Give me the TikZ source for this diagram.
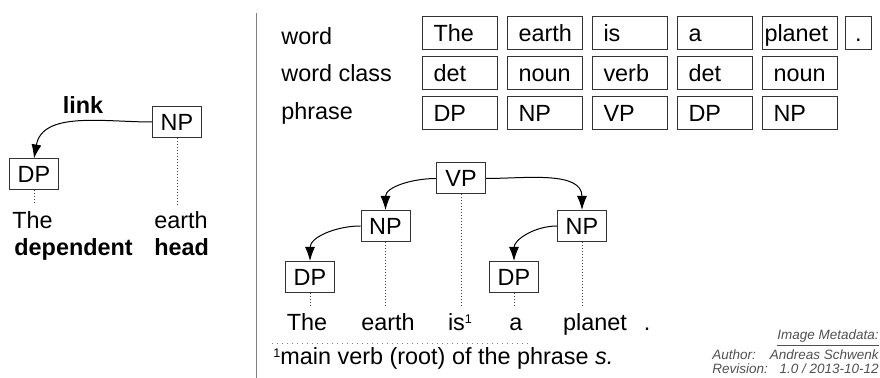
\documentclass[tikz,border=0pt]{standalone}
\usepackage{fontspec}
\setmainfont{Liberation Sans}
\usetikzlibrary{arrows.meta,positioning}
\definecolor{rulegray}{RGB}{128,128,128}
\definecolor{metagray}{RGB}{80,80,80}
\newcommand{\fnmark}{\raisebox{3.9pt}{\fontsize{6.3pt}{7pt}\selectfont 1}}

\begin{document}
\begin{tikzpicture}[x=0.5pt,y=-0.5pt,
font=\fontsize{11.7pt}{14pt}\selectfont,
cell/.style={draw=black!80,line width=0.5pt,minimum height=16.5pt,inner xsep=5.5pt,inner ysep=0pt,
text width=26.5pt,align=left,text height=8.4pt,text depth=0pt},
phr/.style={draw=black!80,line width=0.5pt,minimum width=24.5pt,minimum height=15.5pt,
inner sep=0pt,text height=8.4pt,text depth=0pt},
word/.style={anchor=base,inner xsep=0pt,inner ysep=3.5pt,text height=8.4pt,text depth=0pt},
proj/.style={densely dotted,line width=0.5pt,draw=black!75},
link/.style={-{Latex[length=7pt,width=5pt]},line width=0.5pt},
meta/.style={font=\fontsize{6.75pt}{8pt}\selectfont\itshape,text=metagray,inner sep=0pt}]
\useasboundingbox (0,0) rectangle (880,378);

% small example: one link from head to dependent
\node[phr] (np0) at (177,122) {NP};
\node[phr] (dp0) at (34,174.5) {DP};
\node[anchor=base,inner sep=0pt,font=\fontsize{11.7pt}{14pt}\selectfont\bfseries] (lnk) at (83,114) {link};
\node[word,anchor=base west] (the0) at (12,229) {The};
\node[word,anchor=base west] (earth0) at (154,229) {earth};
\node[word,anchor=base west,font=\fontsize{11.7pt}{14pt}\selectfont\bfseries] (dep0) at (14,256) {dependent};
\node[word,anchor=base west,font=\fontsize{11.7pt}{14pt}\selectfont\bfseries] (head0) at (154,256) {head};
\draw[link] (np0.west) to[out=180,in=80] (dp0.north);
\draw[proj] (dp0.south) -- (dp0.south |- the0.north);
\draw[proj] (np0.south) -- (np0.south |- earth0.north);

\draw[rulegray,line width=0.6pt] (256.7,13) -- (256.7,378);

% table of words, classes and phrases
\node[anchor=base west,inner sep=0pt] (lword) at (281,45) {word};
\node[anchor=base west,inner sep=0pt] (lclass) at (281,82) {word class};
\node[anchor=base west,inner sep=0pt] (lphrase) at (281,120) {phrase};

\node[cell] (w1) at (460,33) {The};
\node[cell,right=4.5pt of w1] (w2) {earth};
\node[cell,right=4.5pt of w2] (w3) {is};
\node[cell,right=4.5pt of w3] (w4) {a};
\node[cell,right=4.5pt of w4,inner xsep=1pt,text width=35.5pt] (w5) {planet};
\node[cell,right=3.3pt of w5,inner xsep=3pt,text width=7.35pt,align=center] (w6) {.};

\node[cell,below=3pt of w1] (c1) {det};
\node[cell,below=3pt of w2] (c2) {noun};
\node[cell,below=3pt of w3] (c3) {verb};
\node[cell,below=3pt of w4] (c4) {det};
\node[cell,below=3pt of w5] (c5) {noun};

\node[cell,below=3pt of c1] (p1) {DP};
\node[cell,below=3pt of c2] (p2) {NP};
\node[cell,below=3pt of c3] (p3) {VP};
\node[cell,below=3pt of c4] (p4) {DP};
\node[cell,below=3pt of c5] (p5) {NP};

% dependency tree of the sentence
\node[phr] (vp) at (461,178.5) {VP};
\node[phr] (np1) at (385.5,226) {NP};
\node[phr] (np2) at (582,226) {NP};
\node[phr] (dp1) at (310,277) {DP};
\node[phr] (dp2) at (514,277) {DP};

\node[word] (t1) at (307,331) {The};
\node[word] (t2) at (388,331) {earth};
\node[word] (t3) at (460,331) {is\fnmark};
\node[word] (t4) at (516,331) {a};
\node[word] (t5) at (595,331) {planet};
\node[word] (t6) at (647,331) {.};

\draw[link] (vp.west) to[out=180,in=90] (np1.north);
\draw[link] (vp.east) to[out=0,in=90] (np2.north);
\draw[link] (np1.west) to[out=180,in=90] (dp1.north);
\draw[link] (np2.west) to[out=180,in=90] (dp2.north);

\draw[proj] (dp1.south) -- (dp1.south |- t1.north);
\draw[proj] (np1.south) -- (np1.south |- t2.north);
\draw[proj] (vp.south) -- (vp.south |- t3.north);
\draw[proj] (dp2.south) -- (dp2.south |- t4.north);
\draw[proj] (np2.south) -- (np2.south |- t5.north);

% footnote
\draw[rulegray,dotted,line width=0.5pt] (272,344) -- (529,344);
\node[anchor=base west,inner sep=0pt] (fnote) at (273,365)
  {\fnmark main verb (root) of the phrase \textit{s.}};

% metadata
\node[meta,anchor=base east] (mtitle) at (879,340) {\underline{Image Metadata:}};
\node[meta,anchor=base west] (mauthkey) at (712,359.5) {Author:};
\node[meta,anchor=base east] (mauth) at (879,359.5) {Andreas Schwenk};
\node[meta,anchor=base west] (mrevkey) at (712,374) {Revision:};
\node[meta,anchor=base east] (mrev) at (879,374) {1.0 / 2013-10-12};
\end{tikzpicture}
\end{document}
